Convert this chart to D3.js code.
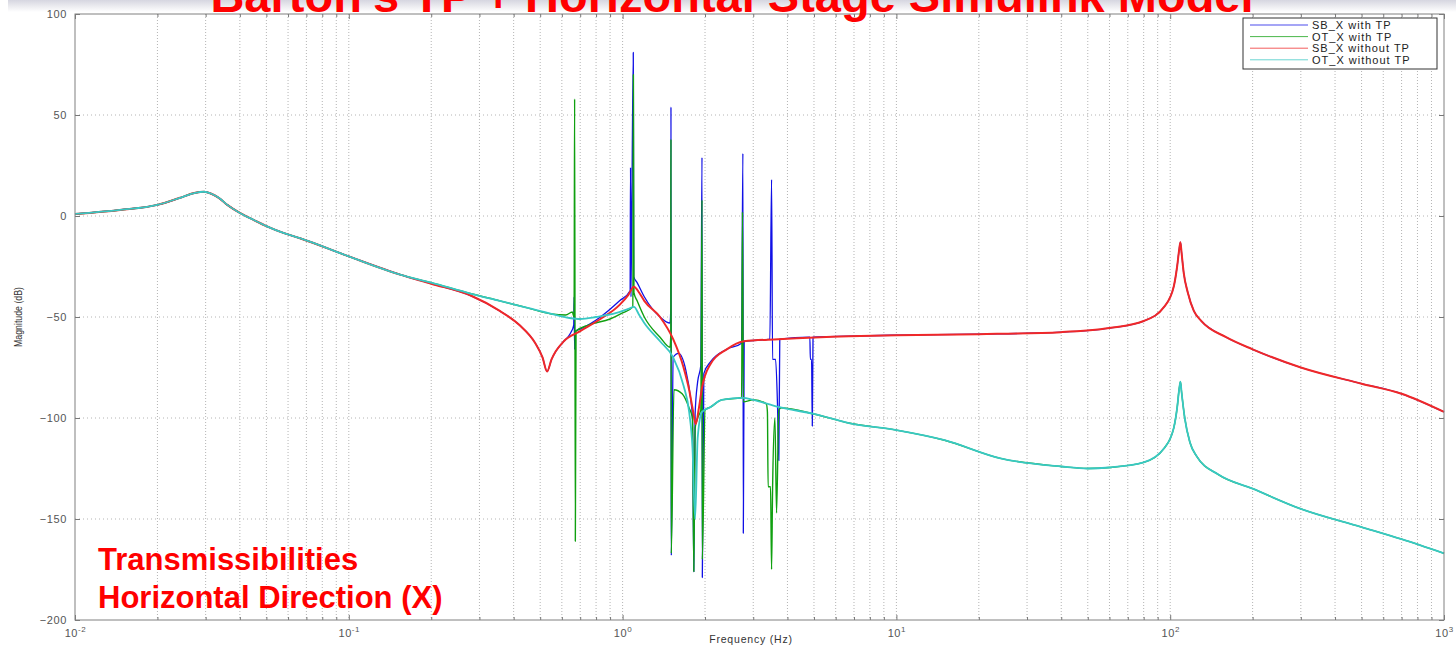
<!DOCTYPE html>
<html>
<head>
<meta charset="utf-8">
<script src="https://cdn.jsdelivr.net/npm/d3@7"></script>
<style>
  body { margin: 0; background: #fff; }
  svg { display: block; font-family: "Liberation Sans", Arial, sans-serif; }
</style>
</head>
<body>
<div id="chart"></div>
<script>
// values: [frequency Hz, magnitude dB]
var lowFreq = [[0.01, 1], [0.0146, 3], [0.02, 5.5], [0.0242, 9], [0.0275, 11.5], [0.0296, 12],
  [0.0315, 11], [0.0335, 9], [0.036, 5.5], [0.04, 1.5], [0.045, -2], [0.05, -5], [0.058, -8.5],
  [0.0663, -11], [0.1, -20], [0.154, -29]];

var sbWithTP = [[0.2, -33.5], [0.28, -39.5], [0.356, -47], [0.42, -54], [0.48, -63], [0.51, -70],
  [0.53, -77], [0.55, -71], [0.57, -67], [0.61, -62], [0.645, -58], [0.663, -54], [0.665, -40],
  [0.668, -66], [0.672, -57], [0.7, -56], [0.83, -50], [0.975, -42], [1.065, -37], [1.069, 24],
  [1.073, -40], [1.094, 81], [1.098, -30], [1.13, -33], [1.2, -40], [1.37, -50], [1.49, -53],
  [1.5, -45], [1.502, 54], [1.506, -168], [1.53, -70], [1.6, -68], [1.7, -76], [1.77, -90],
  [1.8, -100], [1.82, -176], [1.84, -98], [1.88, -82], [1.93, -74], [1.95, 29], [1.955, -179],
  [1.98, -78], [2.1, -72], [2.4, -66], [2.72, -63], [2.75, 31], [2.76, -157], [2.78, -62],
  [3.45, -61], [3.5, 18], [3.53, -71], [3.62, -71], [3.68, -94], [3.72, -121], [3.75, -61],
  [4.83, -60], [4.85, -71], [4.9, -71], [4.93, -104], [4.96, -60], [6.7, -59.5], [10, -59],
  [20, -58.5], [40, -57.5], [60, -55.5], [80, -52], [95, -45], [103, -35], [106, -25], [108, -16],
  [109, -13], [110, -18], [112, -28], [116, -38], [122, -47], [130, -52], [160, -60], [200, -66],
  [300, -75], [500, -83], [700, -88], [1000, -97]];

var otWithTP = [[0.2, -33], [0.28, -38.5], [0.356, -42], [0.45, -45.5], [0.55, -48.5], [0.62, -49],
  [0.655, -47.5], [0.665, -50], [0.668, 58], [0.672, -161], [0.676, -57], [0.75, -54], [0.9, -51],
  [1.0, -48], [1.09, -45], [1.095, 70], [1.1, -38], [1.13, -42], [1.2, -50], [1.37, -60],
  [1.49, -65], [1.5, -58], [1.502, 38], [1.506, -167], [1.54, -86], [1.65, -88], [1.75, -95],
  [1.8, -100], [1.82, -176], [1.84, -105], [1.88, -100], [1.93, -96], [1.95, 8], [1.955, -170],
  [2.0, -96], [2.1, -94.5], [2.3, -91], [2.72, -90], [2.74, 2], [2.76, -92], [3.0, -91],
  [3.35, -93], [3.38, -97], [3.4, -134], [3.47, -134], [3.5, -175], [3.53, -135], [3.6, -100],
  [3.65, -147], [3.72, -96], [3.8, -95], [5, -98], [6.7, -102.5], [10, -106], [15, -111],
  [24, -120], [40, -124], [50, -125], [60, -124.5], [80, -122], [95, -115], [103, -105], [106, -95],
  [108, -85], [109, -82], [110, -87], [113, -100], [118, -112], [125, -119], [150, -128],
  [200, -135], [300, -145], [500, -154], [700, -160], [1000, -167]];

var sbWithoutTP = [[0.2, -33.5], [0.28, -39.5], [0.356, -47], [0.42, -54], [0.48, -63], [0.51, -70],
  [0.53, -77], [0.55, -71], [0.57, -67], [0.61, -62], [0.7, -57], [0.83, -51], [0.975, -44],
  [1.05, -39], [1.1, -35], [1.15, -38], [1.2, -42], [1.37, -50], [1.53, -61], [1.67, -75],
  [1.75, -86], [1.8, -95], [1.85, -103], [1.9, -95], [1.95, -85], [2.1, -73], [2.4, -66],
  [2.78, -62], [3.7, -61], [6.7, -59.5], [10, -59], [20, -58.5], [40, -57.5], [60, -55.5],
  [80, -52], [95, -45], [103, -35], [106, -25], [108, -16], [109, -13], [110, -18], [112, -28],
  [116, -38], [122, -47], [130, -52], [160, -60], [200, -66], [300, -75], [500, -83], [700, -88],
  [1000, -97]];

var otWithoutTP = [[0.2, -33], [0.28, -38.5], [0.356, -42], [0.45, -45.5], [0.55, -48.5],
  [0.64, -50.5], [0.7, -51], [0.8, -50], [0.95, -48], [1.05, -46], [1.1, -45], [1.15, -49],
  [1.2, -53], [1.37, -62], [1.53, -70], [1.67, -84], [1.75, -97], [1.8, -115], [1.84, -150],
  [1.88, -110], [1.95, -97], [2.1, -94.5], [2.3, -91], [2.75, -90], [3.0, -91], [3.7, -94.5],
  [5, -98], [6.7, -102.5], [10, -106], [15, -111], [24, -120], [40, -124], [50, -125],
  [60, -124.5], [80, -122], [95, -115], [103, -105], [106, -95], [108, -85], [109, -82],
  [110, -87], [113, -100], [118, -112], [125, -119], [150, -128], [200, -135], [300, -145],
  [500, -154], [700, -160], [1000, -167]];

var seriesNames = ["SB_X with TP", "OT_X with TP", "SB_X without TP", "OT_X without TP"];
var seriesColors = ["#1010e6", "#10a010", "#f02828", "#38c8c4"];
var seriesWidths = [1.3, 1.4, 2, 1.8];
var yTicks = [-200, -150, -100, -50, 0, 50, 100];
var xDecades = [0.01, 0.1, 1, 10, 100, 1000];
var xExponents = ["-2", "-1", "0", "1", "2", "3"];

var title = "Barton's TP + Horizontal Stage Simulink Model";
var noteLines = ["Transmissibilities", "Horizontal Direction (X)"];

var totalWidth = 1456, totalHeight = 648;
var margin = {top: 14, right: 12, bottom: 28, left: 75},
    width = totalWidth - margin.left - margin.right,
    height = totalHeight - margin.top - margin.bottom;

var x = d3.scaleLog().domain([0.01, 1000]).range([0, width]);
var y = d3.scaleLinear().domain([-200, 100]).range([height, 0]);

var svg = d3.select("#chart").append("svg")
    .attr("width", totalWidth)
    .attr("height", totalHeight);

// faint slide header band
var grad = svg.append("defs").append("linearGradient")
    .attr("id", "band").attr("x1", 0).attr("y1", 0).attr("x2", 0).attr("y2", 1);
grad.append("stop").attr("offset", "0%").attr("stop-color", "#d6d6e0");
grad.append("stop").attr("offset", "100%").attr("stop-color", "#ffffff");
svg.append("rect").attr("x", 8).attr("y", 0).attr("width", totalWidth - 8).attr("height", 12)
    .attr("fill", "url(#band)");

var g = svg.append("g").attr("transform", "translate(" + margin.left + "," + margin.top + ")");

// minor log ticks
var minor = [];
xDecades.slice(0, -1).forEach(function(d) {
  for (var k = 2; k <= 9; k++) minor.push(d * k);
});
var allX = minor.concat(xDecades.slice(1, -1));

g.append("g").selectAll("line").data(allX).enter().append("line")
    .attr("x1", function(d) { return x(d); }).attr("x2", function(d) { return x(d); })
    .attr("y1", 0).attr("y2", height)
    .attr("stroke", "#b4b4b4").attr("stroke-width", 1).attr("stroke-dasharray", "1,2");

g.append("g").selectAll("line").data(yTicks.slice(1, -1)).enter().append("line")
    .attr("x1", 0).attr("x2", width)
    .attr("y1", function(d) { return y(d); }).attr("y2", function(d) { return y(d); })
    .attr("stroke", "#b4b4b4").attr("stroke-width", 1).attr("stroke-dasharray", "1,3");

// curves
var line = d3.line()
    .x(function(d) { return x(d[0]); })
    .y(function(d) { return y(d[1]); })
    .curve(d3.curveMonotoneX);

var allSeries = [lowFreq.concat(sbWithTP), lowFreq.concat(otWithTP),
  lowFreq.concat(sbWithoutTP), lowFreq.concat(otWithoutTP)];

g.append("g").selectAll("path").data(allSeries).enter().append("path")
    .attr("d", line)
    .attr("fill", "none")
    .attr("stroke", function(d, i) { return seriesColors[i]; })
    .attr("stroke-width", function(d, i) { return seriesWidths[i]; })
    .attr("stroke-linejoin", "round");

// axes (ticks point inward like the original)
function styleAxis(sel) {
  sel.select(".domain").remove();
  sel.selectAll("line").attr("stroke", "#777");
  sel.selectAll("text").attr("fill", "#555").attr("font-size", "11px")
    .attr("letter-spacing", "0.6px");
}

g.append("g")
    .call(d3.axisLeft(y).tickValues(yTicks).tickSizeInner(-5).tickSizeOuter(0).tickPadding(8))
    .call(styleAxis);
g.append("g").attr("transform", "translate(" + width + ",0)")
    .call(d3.axisRight(y).tickValues(yTicks).tickSizeInner(-5).tickSizeOuter(0).tickFormat(""))
    .call(styleAxis);

var xb = g.append("g").attr("transform", "translate(0," + height + ")")
    .call(d3.axisBottom(x).tickValues(xDecades).tickSizeInner(-5).tickSizeOuter(0).tickPadding(9))
    .call(styleAxis);
xb.selectAll("text").each(function(d, i) {
  var t = d3.select(this).text("");
  t.append("tspan").text("10");
  t.append("tspan").attr("dy", "-5").attr("font-size", "8px").text(xExponents[i]);
});
g.append("g").attr("transform", "translate(0," + height + ")")
    .call(d3.axisBottom(x).tickValues(minor).tickSizeInner(-3).tickSizeOuter(0).tickFormat(""))
    .call(styleAxis);
g.append("g")
    .call(d3.axisTop(x).tickValues(xDecades).tickSizeInner(-5).tickSizeOuter(0).tickFormat(""))
    .call(styleAxis);
g.append("g")
    .call(d3.axisTop(x).tickValues(minor).tickSizeInner(-3).tickSizeOuter(0).tickFormat(""))
    .call(styleAxis);

g.append("rect").attr("width", width).attr("height", height)
    .attr("fill", "none").attr("stroke", "#808080").attr("stroke-width", 1);

// axis labels
svg.append("text")
    .attr("x", 751).attr("y", 643)
    .attr("text-anchor", "middle").attr("font-size", "10.5px").attr("fill", "#333")
    .attr("letter-spacing", "0.8px")
    .text("Frequency (Hz)");
svg.append("text")
    .attr("transform", "translate(22," + (margin.top + height / 2) + ") rotate(-90)")
    .attr("text-anchor", "middle").attr("font-size", "10px").attr("fill", "#333")
    .attr("textLength", 60).attr("lengthAdjust", "spacingAndGlyphs")
    .text("Magnitude (dB)");

// legend
var legend = svg.append("g").attr("transform", "translate(1243,18)");
legend.append("rect").attr("width", 194).attr("height", 51)
    .attr("fill", "#fff").attr("stroke", "#333").attr("stroke-width", 1);
var item = legend.selectAll(".item").data(seriesNames).enter().append("g")
    .attr("transform", function(d, i) { return "translate(0," + (7 + i * 11.6) + ")"; });
item.append("line").attr("x1", 7).attr("x2", 65).attr("y1", 0).attr("y2", 0)
    .attr("stroke", function(d, i) { return seriesColors[i]; }).attr("stroke-width", 1)
    .attr("opacity", 0.75);
item.append("text").attr("x", 69).attr("y", 4)
    .attr("font-size", "11px").attr("fill", "#222").attr("letter-spacing", "1px")
    .text(function(d) { return d; });

// title, cut off at the top as in the picture
svg.append("text")
    .attr("x", 732).attr("y", 12)
    .attr("text-anchor", "middle")
    .attr("font-size", "47px").attr("font-weight", "bold").attr("fill", "#ff0000")
    .text(title);

// red note in the lower left
svg.append("g").selectAll("text").data(noteLines).enter().append("text")
    .attr("x", 98).attr("y", function(d, i) { return 570 + i * 38; })
    .attr("font-size", "31px").attr("font-weight", "bold").attr("fill", "#ff0000")
    .text(function(d) { return d; });
</script>
</body>
</html>
